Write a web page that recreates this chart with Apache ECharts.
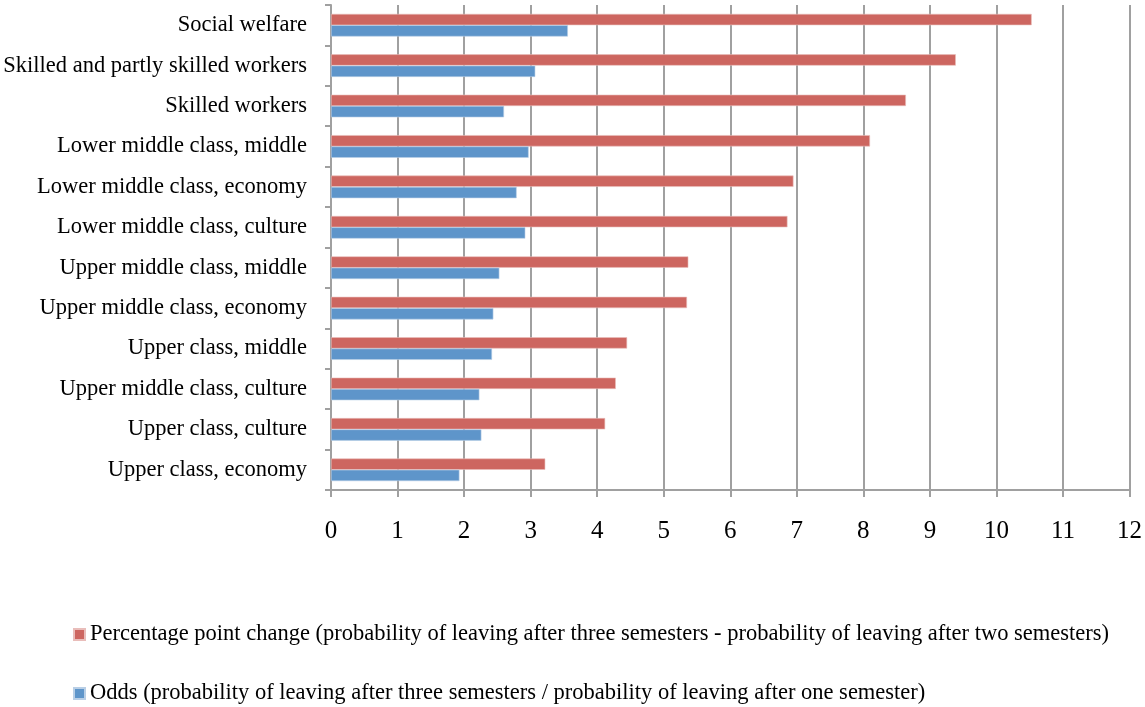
<!DOCTYPE html>
<html>
<head>
<meta charset="utf-8">
<title>Probability of leaving by social group</title>
<script src="https://cdn.jsdelivr.net/npm/echarts@6/dist/echarts.min.js"></script>
<style>
  html, body { margin: 0; padding: 0; background: #fff; }
  #chart { width: 1145px; height: 707px; }
</style>
</head>
<body>
<div id="chart"></div>
<script>
// Social groups, listed bottom to top as they appear on the axis
const categories = [
  'Upper class, economy',
  'Upper class, culture',
  'Upper middle class, culture',
  'Upper class, middle',
  'Upper middle class, economy',
  'Upper middle class, middle',
  'Lower middle class, culture',
  'Lower middle class, economy',
  'Lower middle class, middle',
  'Skilled workers',
  'Skilled and partly skilled workers',
  'Social welfare'
];

// Percentage point change (three semesters minus two semesters)
const pointChange = [3.22, 4.12, 4.28, 4.45, 5.35, 5.37, 6.86, 6.95, 8.10, 8.64, 9.39, 10.53];

// Odds (three semesters over one semester)
const odds = [1.93, 2.26, 2.23, 2.42, 2.44, 2.53, 2.92, 2.79, 2.97, 2.60, 3.07, 3.56];

const nameChange = 'Percentage point change (probability of leaving after three semesters - probability of leaving after two semesters)';
const nameOdds = 'Odds (probability of leaving after three semesters / probability of leaving after one semester)';

const serif = '"Liberation Serif", "DejaVu Serif", serif';
const gridGray = '#A0A0A0';

const legendText = { fontFamily: serif, fontSize: 22.5, color: '#000' };
function legendFor(name, top) {
  return {
    left: 73,
    top: top,
    padding: 0,
    itemWidth: 11,
    itemHeight: 11,
    icon: 'rect',
    data: [name],
    textStyle: legendText
  };
}

const chart = echarts.init(document.getElementById('chart'), null, { renderer: 'canvas' });

chart.setOption({
  animation: false,
  backgroundColor: '#ffffff',
  textStyle: { fontFamily: serif, color: '#000' },
  grid: { left: 331, right: 15, top: 5, bottom: 217, containLabel: false },
  legend: [legendFor(nameChange, 623), legendFor(nameOdds, 682)],
  xAxis: {
    type: 'value',
    min: 0,
    max: 12,
    interval: 1,
    axisLine: { show: true, lineStyle: { color: gridGray, width: 2 } },
    axisTick: { show: true, length: 7, lineStyle: { color: gridGray, width: 2 } },
    splitLine: { show: true, lineStyle: { color: gridGray, width: 2 } },
    axisLabel: { fontFamily: serif, fontSize: 25, color: '#000', margin: 29 }
  },
  yAxis: {
    type: 'category',
    data: categories,
    axisLine: { show: true, lineStyle: { color: gridGray, width: 2 } },
    axisTick: { show: true, length: 6, lineStyle: { color: gridGray, width: 2 } },
    axisLabel: { fontFamily: serif, fontSize: 22.5, color: '#000', margin: 24, padding: [6, 0, 0, 0] }
  },
  series: [
    {
      name: nameChange,
      type: 'bar',
      data: pointChange,
      barGap: '0%',
      barCategoryGap: '44%',
      itemStyle: { color: '#CD6660', borderColor: '#E9BDBA', borderWidth: 0.6 }
    },
    {
      name: nameOdds,
      type: 'bar',
      data: odds,
      barGap: '0%',
      barCategoryGap: '44%',
      itemStyle: { color: '#5E95CA', borderColor: '#B9CFE6', borderWidth: 0.6 }
    }
  ]
});
</script>
</body>
</html>
